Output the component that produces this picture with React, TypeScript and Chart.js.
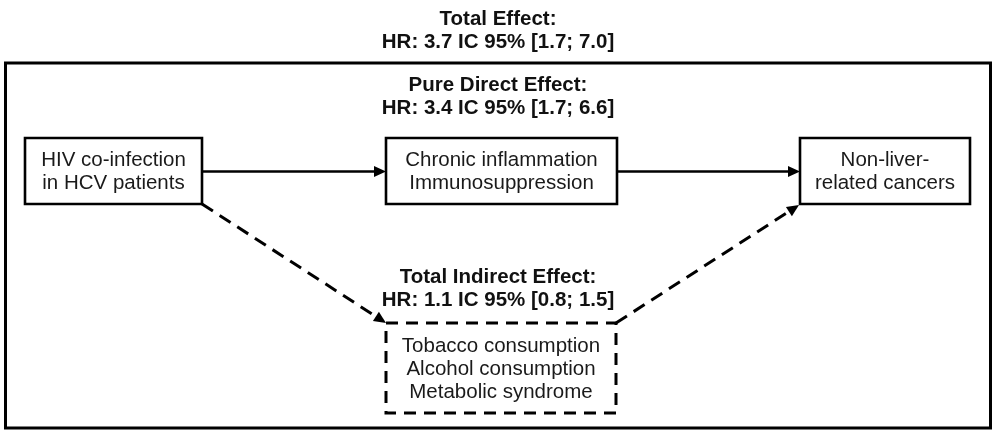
import React, { useEffect, useRef } from "react";
import { Chart, registerables } from "chart.js";

Chart.register(...registerables);

// ---- content (text & values) ----
const nodeLabels: string[][] = [
  ["HIV co-infection", "in HCV patients"],
  ["Chronic inflammation", "Immunosuppression"],
  ["Non-liver-", "related cancers"],
  ["Tobacco consumption", "Alcohol consumption", "Metabolic syndrome"],
];
const effectTitles = ["Total Effect:", "Pure Direct Effect:", "Total Indirect Effect:"];
const effectHR = [3.7, 3.4, 1.1];
const effectCILow = [1.7, 1.7, 0.8];
const effectCIHigh = [7.0, 6.6, 1.5];

// ---- layout (diagram coordinates, in the chart's data space) ----
const W = 997;
const H = 434;
const nodeBoxes = [
  { x0: 25, x1: 202, y0: 138, y1: 204, dashed: false },
  { x0: 386, x1: 617, y0: 138, y1: 204, dashed: false },
  { x0: 800, x1: 970, y0: 138, y1: 204, dashed: false },
  { x0: 386, x1: 616, y0: 323, y1: 413, dashed: true },
];
const outerFrame = { x0: 5.5, x1: 990.5, y0: 63, y1: 428 };
const effectCenters = [
  { x: 498, y: 30 },
  { x: 498, y: 95.5 },
  { x: 498, y: 287.5 },
];
const edges = [
  { from: { x: 202, y: 171.5 }, to: { x: 386, y: 171.5 }, dashed: false },
  { from: { x: 617, y: 171.5 }, to: { x: 800, y: 171.5 }, dashed: false },
  { from: { x: 202, y: 204 }, to: { x: 386, y: 323 }, dashed: true },
  { from: { x: 616, y: 323 }, to: { x: 799, y: 205 }, dashed: true },
];

const LINE_H = 23;
const TEXT_DY = 1;
const FONT = '"Liberation Sans", Arial, sans-serif';

function rectPts(b: { x0: number; x1: number; y0: number; y1: number }) {
  return [
    { x: b.x0, y: b.y0 },
    { x: b.x1, y: b.y0 },
    { x: b.x1, y: b.y1 },
    { x: b.x0, y: b.y1 },
    { x: b.x0, y: b.y0 },
  ];
}

const diagramPlugin = {
  id: "diagram",
  afterDatasetsDraw(chart: any) {
    const { ctx, scales } = chart;
    const px = (v: number) => scales.x.getPixelForValue(v);
    const py = (v: number) => scales.y.getPixelForValue(v);
    ctx.save();
    // arrowheads
    ctx.fillStyle = "#000";
    edges.forEach((e) => {
      const x1 = px(e.from.x), y1 = py(e.from.y), x2 = px(e.to.x), y2 = py(e.to.y);
      const ang = Math.atan2(y2 - y1, x2 - x1);
      const len = 12, half = 5.5;
      ctx.beginPath();
      ctx.moveTo(x2, y2);
      ctx.lineTo(x2 - len * Math.cos(ang) + half * Math.sin(ang), y2 - len * Math.sin(ang) - half * Math.cos(ang));
      ctx.lineTo(x2 - len * Math.cos(ang) - half * Math.sin(ang), y2 - len * Math.sin(ang) + half * Math.cos(ang));
      ctx.closePath();
      ctx.fill();
    });
    // texts
    ctx.textAlign = "center";
    ctx.textBaseline = "middle";
    ctx.fillStyle = "#111";
    ctx.font = `bold 20.5px ${FONT}`;
    effectTitles.forEach((t, i) => {
      const c = effectCenters[i];
      const hr = `HR: ${effectHR[i].toFixed(1)} IC 95% [${effectCILow[i].toFixed(1)}; ${effectCIHigh[i].toFixed(1)}]`;
      ctx.fillText(t, px(c.x), py(c.y) - LINE_H / 2 + TEXT_DY);
      ctx.fillText(hr, px(c.x), py(c.y) + LINE_H / 2 + TEXT_DY);
    });
    ctx.fillStyle = "#1a1a1a";
    ctx.font = `20.5px ${FONT}`;
    nodeLabels.forEach((lines, i) => {
      const b = nodeBoxes[i];
      const cx = px((b.x0 + b.x1) / 2);
      const cy = py((b.y0 + b.y1) / 2);
      lines.forEach((l, j) => {
        ctx.fillText(l, cx, cy + (j - (lines.length - 1) / 2) * LINE_H + TEXT_DY);
      });
    });
    ctx.restore();
  },
};

export default function App() {
  const ref = useRef<HTMLCanvasElement | null>(null);
  useEffect(() => {
    if (!ref.current) return;
    const datasets: any[] = [];
    datasets.push({
      data: rectPts(outerFrame),
      showLine: true,
      borderColor: "#000",
      borderWidth: 3,
      pointRadius: 0,
      borderCapStyle: "square",
      borderJoinStyle: "miter",
      clip: false,
    });
    nodeBoxes.forEach((b) => {
      datasets.push({
        data: rectPts(b),
        showLine: true,
        borderColor: "#000",
        borderWidth: b.dashed ? 3 : 2.6,
        borderDash: b.dashed ? [12, 8] : [],
        pointRadius: 0,
        borderCapStyle: b.dashed ? "butt" : "square",
        borderJoinStyle: "miter",
        clip: false,
      });
    });
    edges.forEach((e) => {
      const ang = Math.atan2(e.to.y - e.from.y, e.to.x - e.from.x);
      const end = { x: e.to.x - 10 * Math.cos(ang), y: e.to.y - 10 * Math.sin(ang) };
      datasets.push({
        data: [e.from, end],
        showLine: true,
        borderColor: "#000",
        borderWidth: e.dashed ? 3 : 2.5,
        borderDash: e.dashed ? [13, 8] : [],
        pointRadius: 0,
        borderCapStyle: "butt",
        clip: false,
      });
    });
    const chart = new Chart(ref.current, {
      type: "scatter",
      data: { datasets },
      options: {
        animation: false,
        responsive: true,
        maintainAspectRatio: false,
        layout: { padding: 0 },
        plugins: { legend: { display: false }, tooltip: { enabled: false }, title: { display: false } },
        scales: {
          x: { type: "linear", min: 0, max: W, display: false },
          y: { type: "linear", min: 0, max: H, reverse: true, display: false },
        },
        events: [],
      },
      plugins: [diagramPlugin],
    });
    return () => chart.destroy();
  }, []);
  return (
    <div style={{ position: "fixed", left: 0, top: 0, width: W, height: H, background: "#fff" }}>
      <canvas ref={ref} />
    </div>
  );
}
